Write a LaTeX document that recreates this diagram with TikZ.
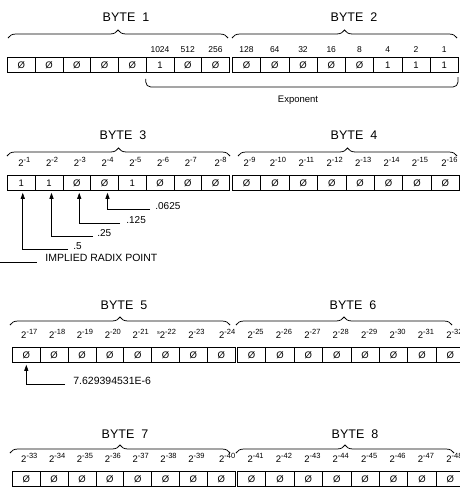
\documentclass[tikz,border=0pt]{standalone}
\usepackage{fontspec}
\setmainfont{Liberation Sans}
\usetikzlibrary{arrows.meta,decorations.pathreplacing}
\newcommand\pwr[1]{2\raisebox{3.8pt}{\fontsize{7.5}{7.5}\selectfont -#1}}
\begin{document}
\begin{tikzpicture}[x=1pt,y=-1pt,line width=0.75pt,
  cell/.style={draw,minimum height=15pt,inner sep=0pt,anchor=north west,font=\fontsize{9.5}{9.5}\selectfont},
  wt/.style={anchor=base,inner sep=0pt,font=\fontsize{8.5}{8.5}\selectfont},
  pw/.style={anchor=base,inner sep=0pt,font=\fontsize{9.5}{9.5}\selectfont},
  bytelbl/.style={inner sep=0pt,font=\fontsize{12.5}{12.5}\selectfont},
  txt/.style={anchor=base west,inner sep=0pt,font=\fontsize{10}{10}\selectfont},
  brc/.style={decorate,decoration={brace,amplitude=8pt},line width=0.75pt},
  arr/.style={-{Triangle[length=6pt,width=4pt]},line width=0.75pt}]
\useasboundingbox (0,0) rectangle (459,491);
% ---------------- row 1
\foreach \v [count=\i from 0] in {Ø,Ø,Ø,Ø,Ø,1,Ø,Ø}
  \node[cell,minimum width=27.75pt] (r1a\i) at ({7+27.75*\i},57) {\v};
\foreach \v [count=\i from 0] in {Ø,Ø,Ø,Ø,Ø,1,1,1}
  \node[cell,minimum width=28.25pt] (r1b\i) at ({232+28.25*\i},57) {\v};
\foreach \t [count=\i from 5] in {1024,512,256}
  \node[wt] (wa\i) at ([yshift=5pt]r1a\i.north) {\t};
\foreach \t [count=\i from 0] in {128,64,32,16,8,4,2,1}
  \node[wt] (wb\i) at ([yshift=5pt]r1b\i.north) {\t};
\node[bytelbl] (b1) at (126,17) {BYTE\ \ 1};
\node[bytelbl] (b2) at (354,17) {BYTE\ \ 2};
\draw[brc] (8,38) -- (228,38);
\draw[brc] (232,38) -- (457,38);
\coordinate (eL) at ([yshift=-6pt]r1a5.south west);
\coordinate (eB) at (458,87);
\coordinate (eR) at (458,77);
\draw[rounded corners=5pt] (eL) |- (eB) -- (eR);
\node[inner sep=0pt,font=\fontsize{9.5}{9.5}\selectfont] (expo) at (298,100) {Exponent};
% ---------------- row 2
\foreach \v [count=\i from 0] in {1,1,Ø,Ø,1,Ø,Ø,Ø}
  \node[cell,minimum width=27.75pt] (r2a\i) at ({7+27.75*\i},175) {\v};
\foreach \v [count=\i from 0] in {Ø,Ø,Ø,Ø,Ø,Ø,Ø,Ø}
  \node[cell,minimum width=28.4pt] (r2b\i) at ({232+28.4*\i},175) {\v};
\foreach \i in {0,...,6}{
  \pgfmathtruncatemacro\ea{\i+1}
  \pgfmathtruncatemacro\eb{\i+9}
  \node[pw] (pa2\i) at ([xshift=3pt,yshift=9pt]r2a\i.north) {\pwr{\ea}};
  \node[pw] (pb2\i) at ([xshift=3pt,yshift=9pt]r2b\i.north) {\pwr{\eb}};
}
\node[pw] (pa27) at ([xshift=5pt,yshift=9pt]r2a7.north) {\pwr{8}};
\node[pw] (pb27) at ([xshift=4pt,yshift=9pt]r2b7.north) {\pwr{16}};
\node[bytelbl] (b3) at (123,135) {BYTE\ \ 3};
\node[bytelbl] (b4) at (354,135) {BYTE\ \ 4};
\draw[brc] (7,156) -- (230,156);
\draw[brc] (238,156) -- (457,156);
% arrows
\coordinate (e1) at (68,249);
\coordinate (e2) at (93,236);
\coordinate (e3) at (120,223);
\coordinate (e4) at (150,209);
\node[txt] (t1) at (73,249) {.5};
\node[txt] (t2) at (97,236) {.25};
\node[txt] (t3) at (126,223) {.125};
\node[txt] (t4) at (155,209) {.0625};
\draw[arr] (e1) -| ([xshift=1.5pt,yshift=-2pt]r2a0.south);
\draw[arr] (e2) -| ([xshift=2.5pt,yshift=-2pt]r2a1.south);
\draw[arr] (e3) -| ([xshift=2.5pt,yshift=-2pt]r2a2.south);
\draw[arr] (e4) -| ([xshift=3pt,yshift=-2pt]r2a3.south);
\coordinate (rL) at (0,262);
\coordinate (rR) at (37,262);
\draw (rL) -- (rR);
\node[txt,font=\fontsize{10.5}{10.5}\selectfont] (radix) at (45,261) {IMPLIED RADIX POINT};
% ---------------- row 3
\foreach \i in {0,...,7}{
  \node[cell,minimum width=27.85pt] (r3a\i) at ({12+27.85*\i},347) {Ø};
  \node[cell,minimum width=28.4pt] (r3b\i) at ({237+28.4*\i},347) {Ø};
}
\foreach \i in {0,1,2,3,4,6}{
  \pgfmathtruncatemacro\ea{\i+17}
  \node[pw] (pa3\i) at ([xshift=3pt,yshift=9pt]r3a\i.north) {\pwr{\ea}};
}
\node[pw] (pa35) at ([xshift=1pt,yshift=9pt]r3a5.north) {\raisebox{3.8pt}{\fontsize{5.5}{5.5}\selectfont s}\pwr{22}};
\node[pw] (pa37) at ([xshift=6pt,yshift=9pt]r3a7.north) {\pwr{24}};
\foreach \i in {0,...,7}{
  \pgfmathtruncatemacro\eb{\i+25}
  \node[pw] (pb3\i) at ([xshift=4pt,yshift=9pt]r3b\i.north) {\pwr{\eb}};
}
\node[bytelbl] (b5) at (124,305) {BYTE\ \ 5};
\node[bytelbl] (b6) at (353,305) {BYTE\ \ 6};
\draw[brc] (10,325) -- (230,325);
\draw[brc] (236,325) -- (452,325);
\coordinate (e5) at (65,384);
\node[txt,font=\fontsize{10.5}{10.5}\selectfont] (t5) at (73,384) {7.629394531E-6};
\draw[arr] (e5) -| ([yshift=-2pt]r3a0.south);
% ---------------- row 4
\foreach \i in {0,...,7}{
  \node[cell,minimum width=27.85pt] (r4a\i) at ({12+27.85*\i},471) {Ø};
  \node[cell,minimum width=28.4pt] (r4b\i) at ({237+28.4*\i},471) {Ø};
}
\foreach \i in {0,...,6}{
  \pgfmathtruncatemacro\ea{\i+33}
  \node[pw] (pa4\i) at ([xshift=3pt,yshift=9pt]r4a\i.north) {\pwr{\ea}};
}
\node[pw] (pa47) at ([xshift=6pt,yshift=9pt]r4a7.north) {\pwr{40}};
\foreach \i in {0,...,7}{
  \pgfmathtruncatemacro\eb{\i+41}
  \node[pw] (pb4\i) at ([xshift=4pt,yshift=9pt]r4b\i.north) {\pwr{\eb}};
}
\node[bytelbl] (b7) at (125,434) {BYTE\ \ 7};
\node[bytelbl] (b8) at (355,434) {BYTE\ \ 8};
\draw[brc] (10,453) -- (230,453);
\draw[brc] (236,453) -- (454,453);
\end{tikzpicture}
\end{document}
